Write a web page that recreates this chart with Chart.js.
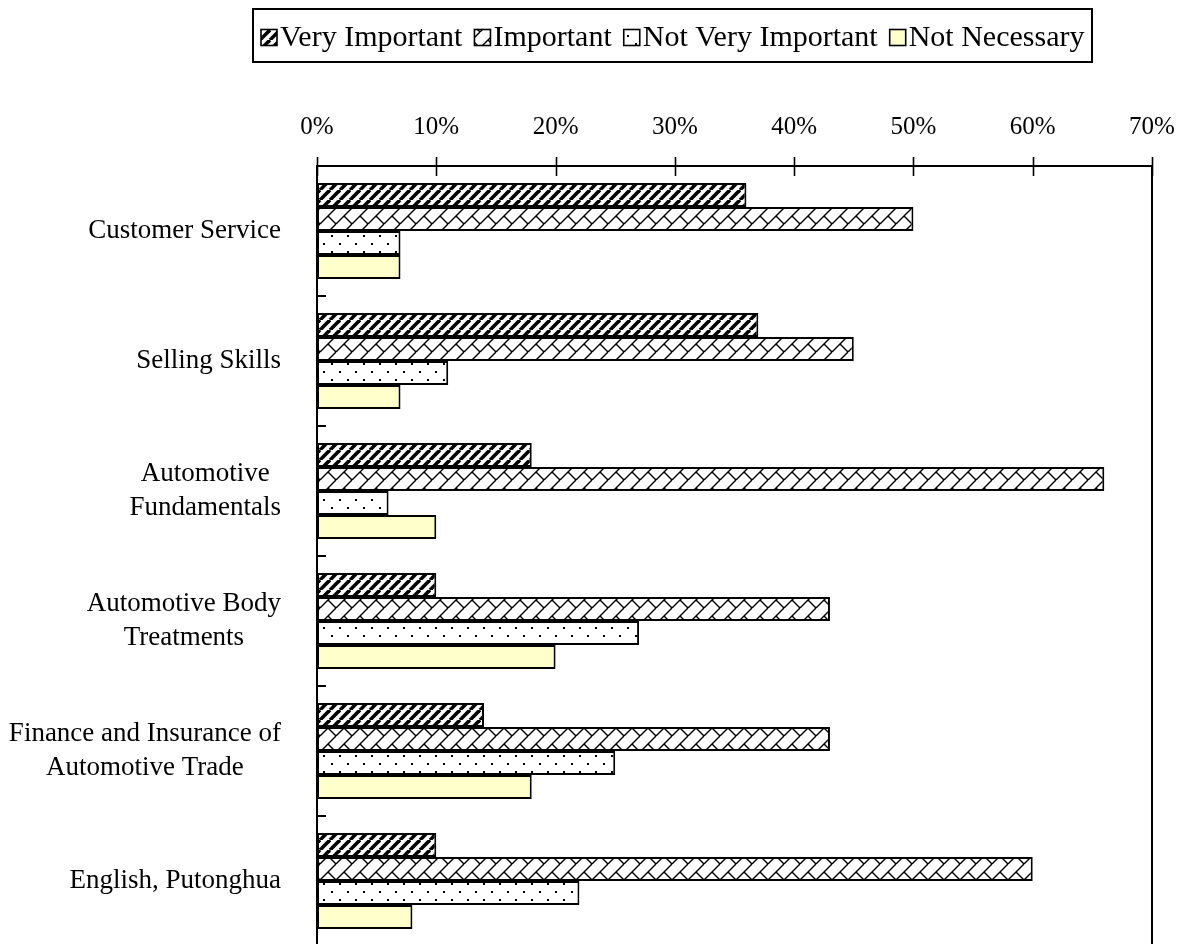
<!DOCTYPE html>
<html>
<head>
<meta charset="utf-8">
<script src="https://cdn.jsdelivr.net/npm/chart.js@4.4.1/dist/chart.umd.min.js"></script>
<style>
  html, body { margin: 0; padding: 0; background: #fff; overflow: hidden; }
  canvas { display: block; }
</style>
</head>
<body>
<canvas id="chart" width="1178" height="946"></canvas>
<script>
// Survey: importance of training topics (% of respondents)
const categories = [
  ["Customer Service"],
  ["Selling Skills"],
  ["Automotive", "Fundamentals"],
  ["Automotive Body", "Treatments"],
  ["Finance and Insurance of", "Automotive Trade"],
  ["English, Putonghua"]
];
const seriesNames = ["Very Important", "Important", "Not Very Important", "Not Necessary"];
const veryImportant    = [36, 37, 18, 10, 14, 10];
const important        = [50, 45, 66, 43, 43, 60];
const notVeryImportant = [7, 11, 6, 27, 25, 22];
const notNecessary     = [7, 7, 10, 20, 18, 8];
const xTickValues = [0, 10, 20, 30, 40, 50, 60, 70];

const SERIF = '"Liberation Serif", "Times New Roman", serif';

// Hatch fills built from small tiles
function makeTile(size, draw) {
  const c = document.createElement('canvas');
  c.width = c.height = size;
  const g = c.getContext('2d');
  g.fillStyle = '#fff';
  g.fillRect(0, 0, size, size);
  draw(g, size);
  return c;
}
const canvas = document.getElementById('chart');
const ctx = canvas.getContext('2d');

const stripeTile = makeTile(10, (g, s) => {
  g.strokeStyle = '#000';
  g.lineWidth = 3.6;
  for (const o of [-s, 0, s]) {
    g.beginPath(); g.moveTo(o, s); g.lineTo(o + s, 0); g.stroke();
  }
});
const brickTile = makeTile(16, (g, s) => {
  g.strokeStyle = '#000';
  g.lineWidth = 1.4;
  for (const o of [-s, 0, s]) {
    g.beginPath(); g.moveTo(o, s); g.lineTo(o + s, 0); g.stroke();
  }
  g.beginPath(); g.moveTo(8, 8); g.lineTo(16, 16); g.stroke();
  g.beginPath(); g.moveTo(-8, -8); g.lineTo(0, 0); g.stroke();
});
const dotTile = makeTile(16, (g) => {
  g.fillStyle = '#000';
  g.fillRect(3, 3, 2, 2);
  g.fillRect(11, 11, 2, 2);
});

const fills = [
  ctx.createPattern(stripeTile, 'repeat'),
  ctx.createPattern(brickTile, 'repeat'),
  ctx.createPattern(dotTile, 'repeat'),
  '#FFFFCC'
];
const seriesValues = [veryImportant, important, notVeryImportant, notNecessary];

const datasets = seriesNames.map((name, i) => ({
  label: name,
  data: seriesValues[i],
  backgroundColor: fills[i],
  borderColor: '#000',
  borderWidth: 2,
  borderSkipped: false,
  barPercentage: 1.0,
  categoryPercentage: 0.74
}));

// Extra drawing: frame, crossing ticks, category labels, boxed legend
const decorations = {
  id: 'decorations',
  afterDraw(chart) {
    const { ctx, chartArea: a, scales: { x, y } } = chart;
    ctx.save();
    ctx.strokeStyle = '#000';

    // right frame line
    ctx.lineWidth = 2;
    ctx.beginPath();
    ctx.moveTo(a.right, a.top - 1);
    ctx.lineTo(a.right, a.bottom);
    ctx.stroke();

    // value-axis tick marks crossing the top axis
    ctx.lineWidth = 1.6;
    xTickValues.forEach(v => {
      const px = Math.round(x.getPixelForValue(v)) + 0.5;
      ctx.beginPath();
      ctx.moveTo(px, a.top - 9);
      ctx.lineTo(px, a.top + 10);
      ctx.stroke();
    });

    // category separators on the left axis
    ctx.lineWidth = 2;
    for (let i = 0; i < categories.length - 1; i++) {
      const py = Math.round((y.getPixelForValue(i) + y.getPixelForValue(i + 1)) / 2);
      ctx.beginPath();
      ctx.moveTo(a.left, py);
      ctx.lineTo(a.left + 9, py);
      ctx.stroke();
    }

    // category labels: lines centred on each other, block right-aligned
    ctx.fillStyle = '#000';
    ctx.font = '27px ' + SERIF;
    ctx.textAlign = 'center';
    ctx.textBaseline = 'middle';
    const lineH = 34;
    categories.forEach((lines, i) => {
      const cy = y.getPixelForValue(i);
      const w = Math.max(...lines.map(l => ctx.measureText(l).width));
      const cx = 281 - w / 2;
      lines.forEach((l, k) => {
        ctx.fillText(l, cx, cy + (k - (lines.length - 1) / 2) * lineH);
      });
    });

    // legend
    ctx.font = '30px ' + SERIF;
    ctx.textAlign = 'left';
    const box = 16, gapIcon = 3, gapItem = 12, pad = 8;
    const widths = seriesNames.map(n => ctx.measureText(n).width);
    const total = widths.reduce((s, w) => s + box + gapIcon + w, 0) + gapItem * (seriesNames.length - 1);
    const boxW = total + pad * 2;
    const left = Math.round(673 - boxW / 2);
    const top = 9, bottom = 62;
    ctx.lineWidth = 2;
    ctx.strokeRect(left, top, Math.round(boxW), bottom - top);
    const cy = (top + bottom) / 2 + 2;
    let cx = left + pad;
    seriesNames.forEach((n, i) => {
      ctx.fillStyle = fills[i];
      ctx.fillRect(cx, cy - box / 2, box, box);
      ctx.lineWidth = 1.6;
      ctx.strokeRect(cx, cy - box / 2, box, box);
      ctx.fillStyle = '#000';
      ctx.fillText(n, cx + box + gapIcon, cy + 1);
      cx += box + gapIcon + widths[i] + gapItem;
    });
    ctx.restore();
  }
};

new Chart(canvas, {
  type: 'bar',
  data: { labels: categories, datasets },
  options: {
    indexAxis: 'y',
    responsive: false,
    animation: false,
    events: [],
    layout: { padding: { top: 70, right: 26, bottom: 0, left: 0 } },
    plugins: { legend: { display: false }, tooltip: { enabled: false } },
    scales: {
      x: {
        type: 'linear',
        position: 'top',
        min: 0,
        max: 70,
        afterBuildTicks: s => { s.ticks = xTickValues.map(v => ({ value: v })); },
        ticks: {
          callback: v => v + '%',
          color: '#000',
          font: { family: SERIF, size: 25 },
          padding: 24,
          maxRotation: 0
        },
        grid: { display: false, drawTicks: false },
        border: { display: true, color: '#000', width: 2 },
        afterFit: s => { s.height = 96; s.paddingLeft = 0; s.paddingRight = 0; }
      },
      y: {
        type: 'category',
        ticks: { display: false },
        grid: { display: false, drawTicks: false },
        border: { display: true, color: '#000', width: 2 },
        afterFit: s => { s.width = 317; }
      }
    }
  },
  plugins: [decorations]
});
</script>
</body>
</html>
